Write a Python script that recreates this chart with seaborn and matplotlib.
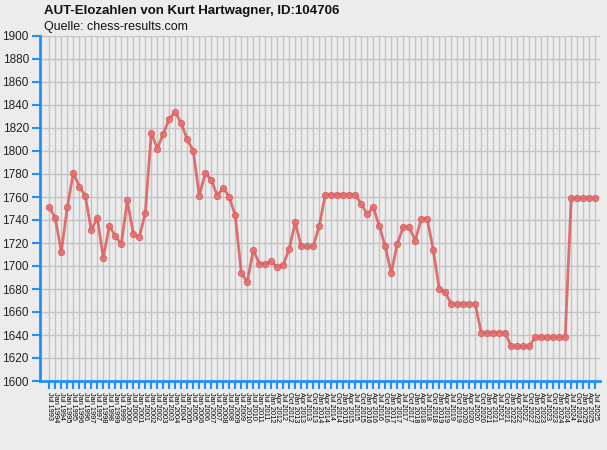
import numpy as np
import pandas as pd
import matplotlib
matplotlib.use("Agg")
import matplotlib.pyplot as plt
import seaborn as sns

# rating lists: half-yearly until Jan 2012, quarterly afterwards
years_half = [1993] + [y for y in range(1994, 2012) for _ in range(2)] + [2012]
months_half = ["Jul"] + ["Jan", "Jul"] * 18 + ["Jan"]
years_q = [2012] * 3 + [y for y in range(2013, 2025) for _ in range(4)] + [2025] * 3
months_q = ["Apr", "Jul", "Oct"] + ["Jan", "Apr", "Jul", "Oct"] * 12 + ["Jan", "Apr", "Jul"]
labels = [f"{m} {y}" for m, y in zip(months_half + months_q, years_half + years_q)]

elo = [1751, 1742, 1712, 1751, 1781, 1769, 1761, 1731, 1742, 1707,
       1735, 1726, 1719, 1757, 1728, 1725, 1746, 1816, 1802, 1815,
       1828, 1834, 1824, 1810, 1800, 1761, 1781, 1775, 1761, 1768,
       1760, 1744, 1694, 1686, 1714, 1702, 1702, 1704, 1699, 1701,
       1715, 1738, 1717, 1717, 1717, 1735, 1762, 1762, 1762, 1762,
       1762, 1762, 1754, 1745, 1751, 1735, 1717, 1694, 1719, 1734,
       1734, 1722, 1741, 1741, 1714, 1680, 1677, 1667, 1667, 1667,
       1667, 1667, 1642, 1642, 1642, 1642, 1642, 1630, 1630, 1630,
       1630, 1638, 1638, 1638, 1638, 1638, 1638, 1759, 1759, 1759,
       1759, 1759]

df = pd.DataFrame({"idx": np.arange(len(elo)), "elo": elo})

sns.set_theme(style="white")
plt.rcParams["font.family"] = ["Liberation Sans", "DejaVu Sans"]

bg = "#ECECEC"
blue = "#1E8FFF"
fig = plt.figure(figsize=(6.07, 4.5), dpi=100, facecolor=bg)
ax = fig.add_axes([40 / 607, 1 - 381 / 450, 560 / 607, 345 / 450])
ax.set_facecolor(bg)

sns.lineplot(data=df, x="idx", y="elo", ax=ax, color="#DD5A5A", alpha=0.85,
             linewidth=2, marker="o", markersize=4.5,
             markerfacecolor="#E07070", markeredgecolor="#DD5A5A", zorder=3)

ax.set_xlim(-1.55, 91.8)
ax.set_ylim(1600, 1900)
ax.set_yticks(np.arange(1600, 1901, 20))
ax.set_xticks(df["idx"])
ax.set_xticklabels(labels, rotation=270, fontsize=5.3, va="top", ha="center")
ax.tick_params(axis="y", left=True, labelsize=8.5, colors=blue, labelcolor="#222222",
               length=6, width=1.5, direction="out", pad=2)
ax.tick_params(axis="x", bottom=True, colors=blue, labelcolor="black",
               length=6, width=1.5, direction="out", pad=2)
ax.grid(True, color="#C4C4C4", linewidth=1)
ax.set_axisbelow(True)
ax.set_xlabel("")
ax.set_ylabel("")
for s in ["top", "right"]:
    ax.spines[s].set_visible(False)
for s in ["left", "bottom"]:
    ax.spines[s].set_color(blue)
    ax.spines[s].set_linewidth(2)

fig.text(44 / 607, 1 - 11 / 450, "AUT-Elozahlen von Kurt Hartwagner, ID:104706",
         fontsize=9.5, fontweight="bold", va="center", ha="left", color="#111111")
fig.text(44 / 607, 1 - 27 / 450, "Quelle: chess-results.com",
         fontsize=9, va="center", ha="left", color="#111111")

fig.savefig("out.png", dpi=100, facecolor=bg)
